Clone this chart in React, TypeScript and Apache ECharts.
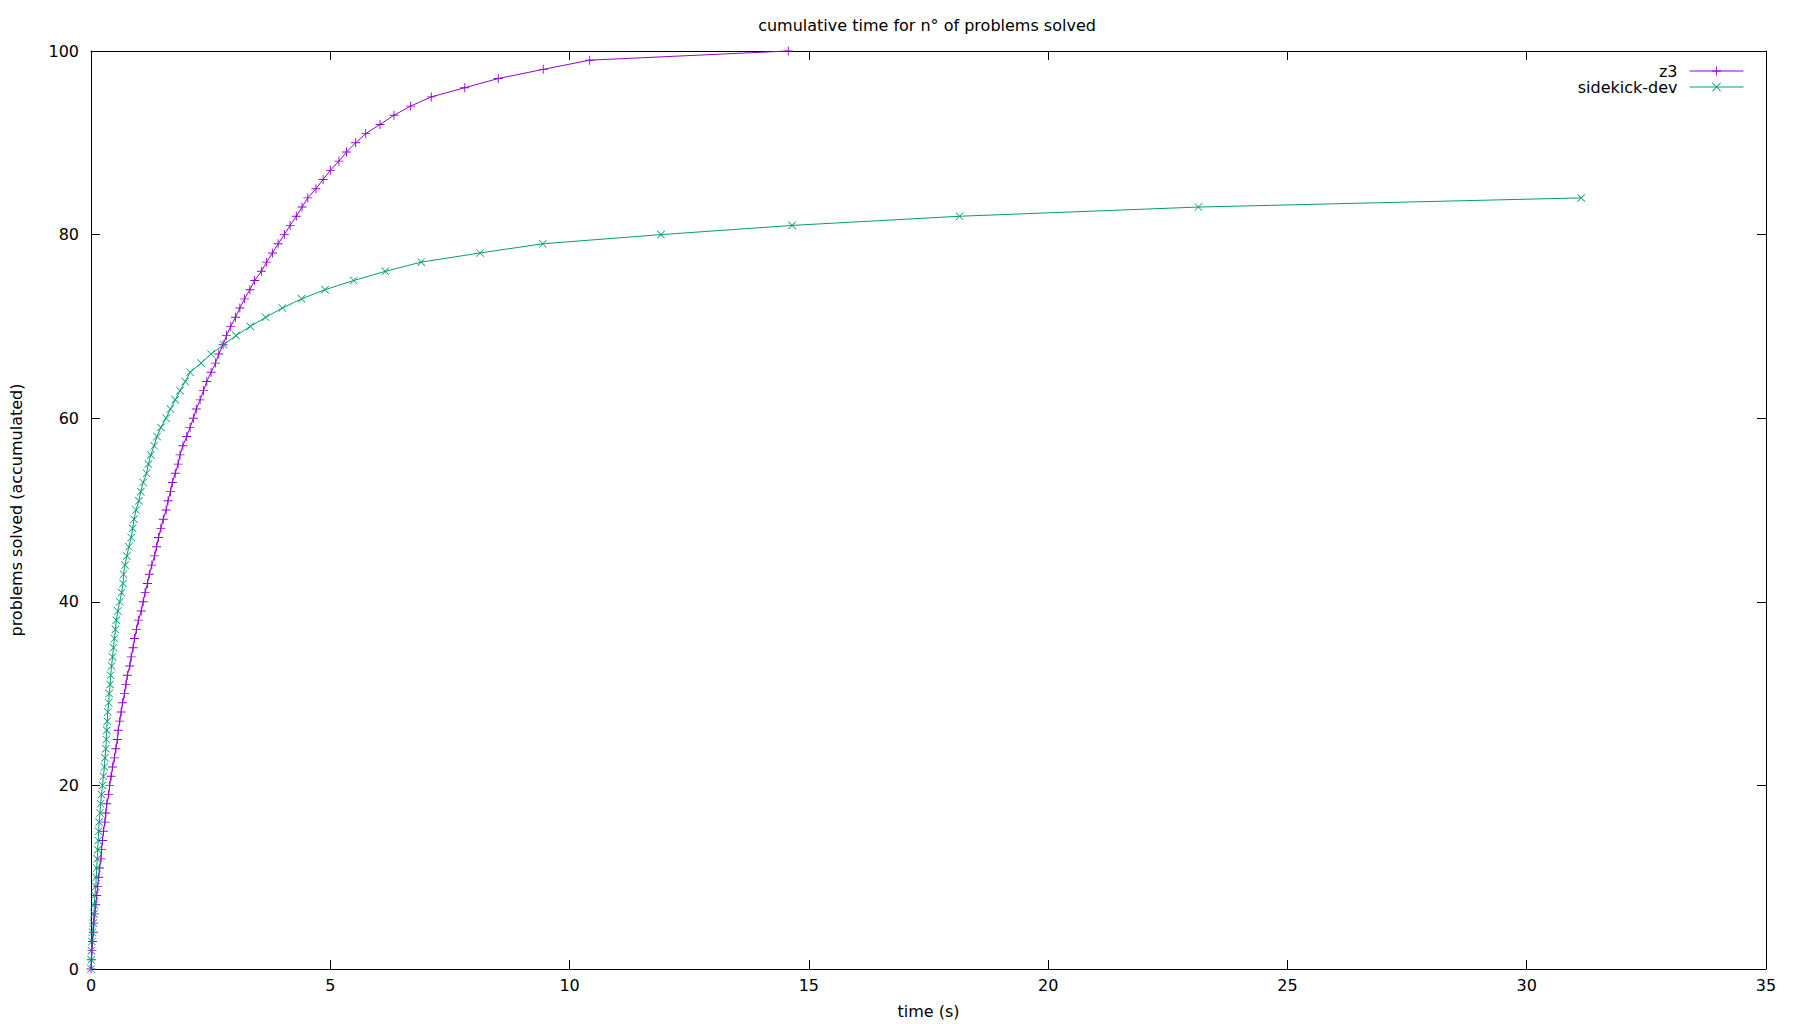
import { useEffect, useRef } from 'react';
import * as echarts from 'echarts';

// cumulative time (s) after each solved problem, index = problems solved
const z3Times = [
  0, 0.01, 0.02, 0.03, 0.05, 0.06, 0.08, 0.1, 0.12, 0.14,
  0.16, 0.18, 0.21, 0.22, 0.24, 0.26, 0.29, 0.31, 0.33, 0.37,
  0.39, 0.42, 0.45, 0.49, 0.52, 0.55, 0.57, 0.6, 0.63, 0.66,
  0.7, 0.73, 0.76, 0.81, 0.84, 0.88, 0.91, 0.95, 0.99, 1.05,
  1.09, 1.13, 1.18, 1.22, 1.27, 1.33, 1.37, 1.41, 1.46, 1.51,
  1.57, 1.61, 1.66, 1.7, 1.76, 1.82, 1.86, 1.92, 2.0, 2.07,
  2.14, 2.2, 2.28, 2.35, 2.42, 2.51, 2.6, 2.67, 2.76, 2.83,
  2.92, 3.02, 3.11, 3.21, 3.32, 3.42, 3.56, 3.67, 3.79, 3.91,
  4.04, 4.16, 4.29, 4.41, 4.53, 4.7, 4.85, 5.0, 5.18, 5.34,
  5.53, 5.74, 6.04, 6.33, 6.68, 7.11, 7.81, 8.51, 9.45, 10.42,
  14.57,
];

const sidekickTimes = [
  0, 0.005, 0.01, 0.02, 0.03, 0.05, 0.06, 0.07, 0.08, 0.1,
  0.11, 0.12, 0.13, 0.14, 0.15, 0.16, 0.17, 0.19, 0.2, 0.22,
  0.24, 0.26, 0.28, 0.29, 0.31, 0.32, 0.33, 0.34, 0.35, 0.37,
  0.38, 0.4, 0.41, 0.43, 0.45, 0.47, 0.49, 0.51, 0.53, 0.56,
  0.6, 0.64, 0.67, 0.68, 0.71, 0.75, 0.79, 0.84, 0.87, 0.9,
  0.94, 1.0, 1.04, 1.09, 1.16, 1.2, 1.25, 1.32, 1.38, 1.46,
  1.57, 1.66, 1.76, 1.86, 1.97, 2.07, 2.3, 2.51, 2.77, 3.03,
  3.33, 3.65, 4.0, 4.4, 4.89, 5.49, 6.15, 6.9, 8.13, 9.44,
  11.91, 14.65, 18.15, 23.14, 31.14,
];

const seriesNames = ['z3', 'sidekick-dev'];
const seriesColors = ['#9400d3', '#009e73'];

const FONT = 'DejaVu Sans';
const PLUS = 'path://M4.5,0H5.5V4.5H10V5.5H5.5V10H4.5V5.5H0V4.5H4.5Z';
const CROSS =
  'path://M0,0.7L0.7,0L5,4.3L9.3,0L10,0.7L5.7,5L10,9.3L9.3,10L5,5.7L0.7,10L0,9.3L4.3,5Z';

const toPoints = (times: number[]) => times.map((t, i) => [t, i]);

export default function App() {
  const chartRef = useRef<HTMLDivElement>(null);

  useEffect(() => {
    if (!chartRef.current) return;
    const chart = echarts.init(chartRef.current, undefined, { renderer: 'svg' });

    const text = { fontFamily: FONT, fontSize: 16, color: '#000' };
    const axisLine = { show: true, onZero: false, lineStyle: { color: '#000', width: 1 } };
    const axisTick = { show: true, inside: true, length: 9, lineStyle: { color: '#000', width: 1 } };

    const legendItem = (name: string, top: number) => ({
      data: [name],
      right: 56,
      top,
      align: 'right',
      padding: 0,
      itemWidth: 54,
      itemHeight: 11,
      lineStyle: { width: 1 },
      textStyle: { ...text, padding: [0, 7, 0, 0] },
    });

    chart.setOption({
      animation: false,
      backgroundColor: '#fff',
      title: {
        text: 'cumulative time for n° of problems solved',
        left: 927,
        top: 17,
        textAlign: 'center',
        padding: 0,
        textStyle: { ...text, fontWeight: 'normal' },
      },
      legend: [legendItem(seriesNames[0], 63), legendItem(seriesNames[1], 79)],
      grid: { left: 89, right: 34, top: 51, bottom: 55 },
      xAxis: [
        {
          type: 'value',
          min: 0,
          max: 35,
          interval: 5,
          position: 'bottom',
          axisLine,
          axisTick,
          axisLabel: { ...text, margin: 8 },
          splitLine: { show: false },
          name: 'time (s)',
          nameLocation: 'middle',
          nameGap: 34,
          nameTextStyle: text,
        },
        {
          type: 'value',
          min: 0,
          max: 35,
          interval: 5,
          position: 'top',
          axisLine,
          axisTick,
          axisLabel: { show: false },
          splitLine: { show: false },
        },
      ],
      yAxis: [
        {
          type: 'value',
          min: 0,
          max: 100,
          interval: 20,
          position: 'left',
          axisLine,
          axisTick,
          axisLabel: { ...text, margin: 12 },
          splitLine: { show: false },
          name: 'problems solved (accumulated)',
          nameLocation: 'middle',
          nameRotate: 90,
          nameGap: 67,
          nameTextStyle: text,
        },
        {
          type: 'value',
          min: 0,
          max: 100,
          interval: 20,
          position: 'right',
          axisLine,
          axisTick,
          axisLabel: { show: false },
          splitLine: { show: false },
        },
      ],
      series: [
        {
          name: seriesNames[0],
          type: 'line',
          data: toPoints(z3Times),
          symbol: PLUS,
          symbolSize: 9,
          clip: false,
          lineStyle: { color: seriesColors[0], width: 1 },
          itemStyle: { color: seriesColors[0] },
          emphasis: { disabled: true },
        },
        {
          name: seriesNames[1],
          type: 'line',
          data: toPoints(sidekickTimes),
          symbol: CROSS,
          symbolSize: 8,
          clip: false,
          lineStyle: { color: seriesColors[1], width: 1 },
          itemStyle: { color: seriesColors[1] },
          emphasis: { disabled: true },
        },
      ],
    });

    return () => chart.dispose();
  }, []);

  return (
    <div
      ref={chartRef}
      style={{ position: 'fixed', left: 0, top: 0, width: '1800px', height: '1024px' }}
    />
  );
}
